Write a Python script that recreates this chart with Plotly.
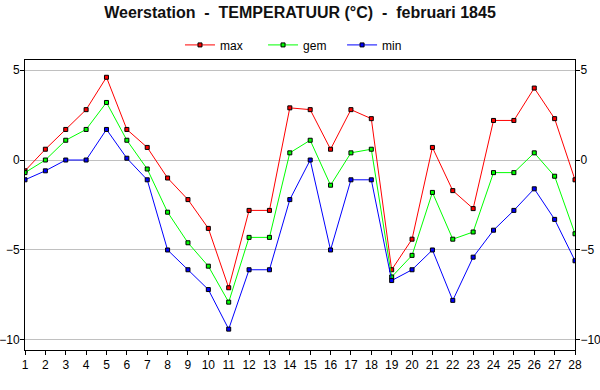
import plotly.graph_objects as go

days = list(range(1, 29))
tmax = [-0.6, 0.6, 1.7, 2.8, 4.6, 1.7, 0.7, -1.0, -2.2, -3.8, -7.1, -2.8, -2.8, 2.9,
        2.8, 0.6, 2.8, 2.3, -6.1, -4.4, 0.7, -1.7, -2.7, 2.2, 2.2, 4.0, 2.3, -1.1]
tgem = [-0.7, 0.0, 1.1, 1.7, 3.2, 1.1, -0.5, -2.9, -4.6, -5.9, -7.9, -4.3, -4.3, 0.4,
        1.1, -1.4, 0.4, 0.6, -6.5, -5.3, -1.8, -4.4, -4.0, -0.7, -0.7, 0.4, -0.9, -4.1]
tmin = [-1.1, -0.6, 0.0, 0.0, 1.7, 0.1, -1.1, -5.0, -6.1, -7.2, -9.4, -6.1, -6.1, -2.2,
        0.0, -5.0, -1.1, -1.1, -6.7, -6.1, -5.0, -7.8, -5.4, -3.9, -2.8, -1.6, -3.3, -5.6]
yticks = [5, 0, -5, -10]

font = "Arial, Liberation Sans, sans-serif"
yr = [-10.56, 5.56]

fig = go.Figure()
series = [("max", tmax, "#ff0000", "legend"), ("gem", tgem, "#00ff00", "legend2"),
          ("min", tmin, "#0000ff", "legend3")]
for name, vals, col, lg in series:
    fig.add_trace(go.Scatter(
        x=days, y=vals, name=name, mode="lines+markers", legend=lg,
        line=dict(color=col, width=1),
        marker=dict(symbol="square", size=4, color=col, line=dict(color="black", width=1)),
    ))
fig.add_trace(go.Scatter(x=[1], y=[0], yaxis="y2", showlegend=False, hoverinfo="skip",
                         mode="markers", marker=dict(opacity=0)))

def leg(x):
    return dict(orientation="h", x=x, xanchor="left", y=1.052, yanchor="middle",
                font=dict(size=12), itemwidth=30, bgcolor="rgba(0,0,0,0)")

fig.update_layout(
    width=600, height=390,
    margin=dict(l=25, r=25, t=60, b=40, autoexpand=False),
    paper_bgcolor="white", plot_bgcolor="white",
    font=dict(family=font, size=12, color="black"),
    title=dict(text="<b>Weerstation\u00a0\u00a0-\u00a0\u00a0TEMPERATUUR (°C)\u00a0\u00a0-\u00a0\u00a0februari 1845</b>",
               x=0.5, xanchor="center", y=0.969, yanchor="middle",
               font=dict(family=font, size=16, color="#111111")),
    legend=leg(0.2818), legend2=leg(0.4328), legend3=leg(0.5765),
    xaxis=dict(range=[1, 28], tickvals=days, ticks="outside", ticklen=4, tickcolor="black",
               showline=True, linecolor="black", linewidth=1, mirror=True, automargin=False,
               showgrid=False, zeroline=False, tickfont=dict(size=12)),
    yaxis=dict(range=yr, tickvals=yticks, ticks="outside", ticklen=4, tickcolor="black",
               showline=True, linecolor="black", linewidth=1, mirror=True, automargin=False,
               showgrid=True, gridcolor="#c0c0c0", gridwidth=1, zeroline=False,
               tickfont=dict(size=12), ticklabelstandoff=-2),
    yaxis2=dict(range=yr, tickvals=yticks, overlaying="y", side="right", ticks="outside",
                ticklen=4, tickcolor="black", showline=True, linecolor="black", automargin=False,
                showgrid=False, zeroline=False, tickfont=dict(size=12), ticklabelstandoff=-2),
    showlegend=True,
)
fig.write_html("out.html", config={"displayModeBar": False},
               post_script="document.body.style.margin='0';document.body.style.padding='0';")
